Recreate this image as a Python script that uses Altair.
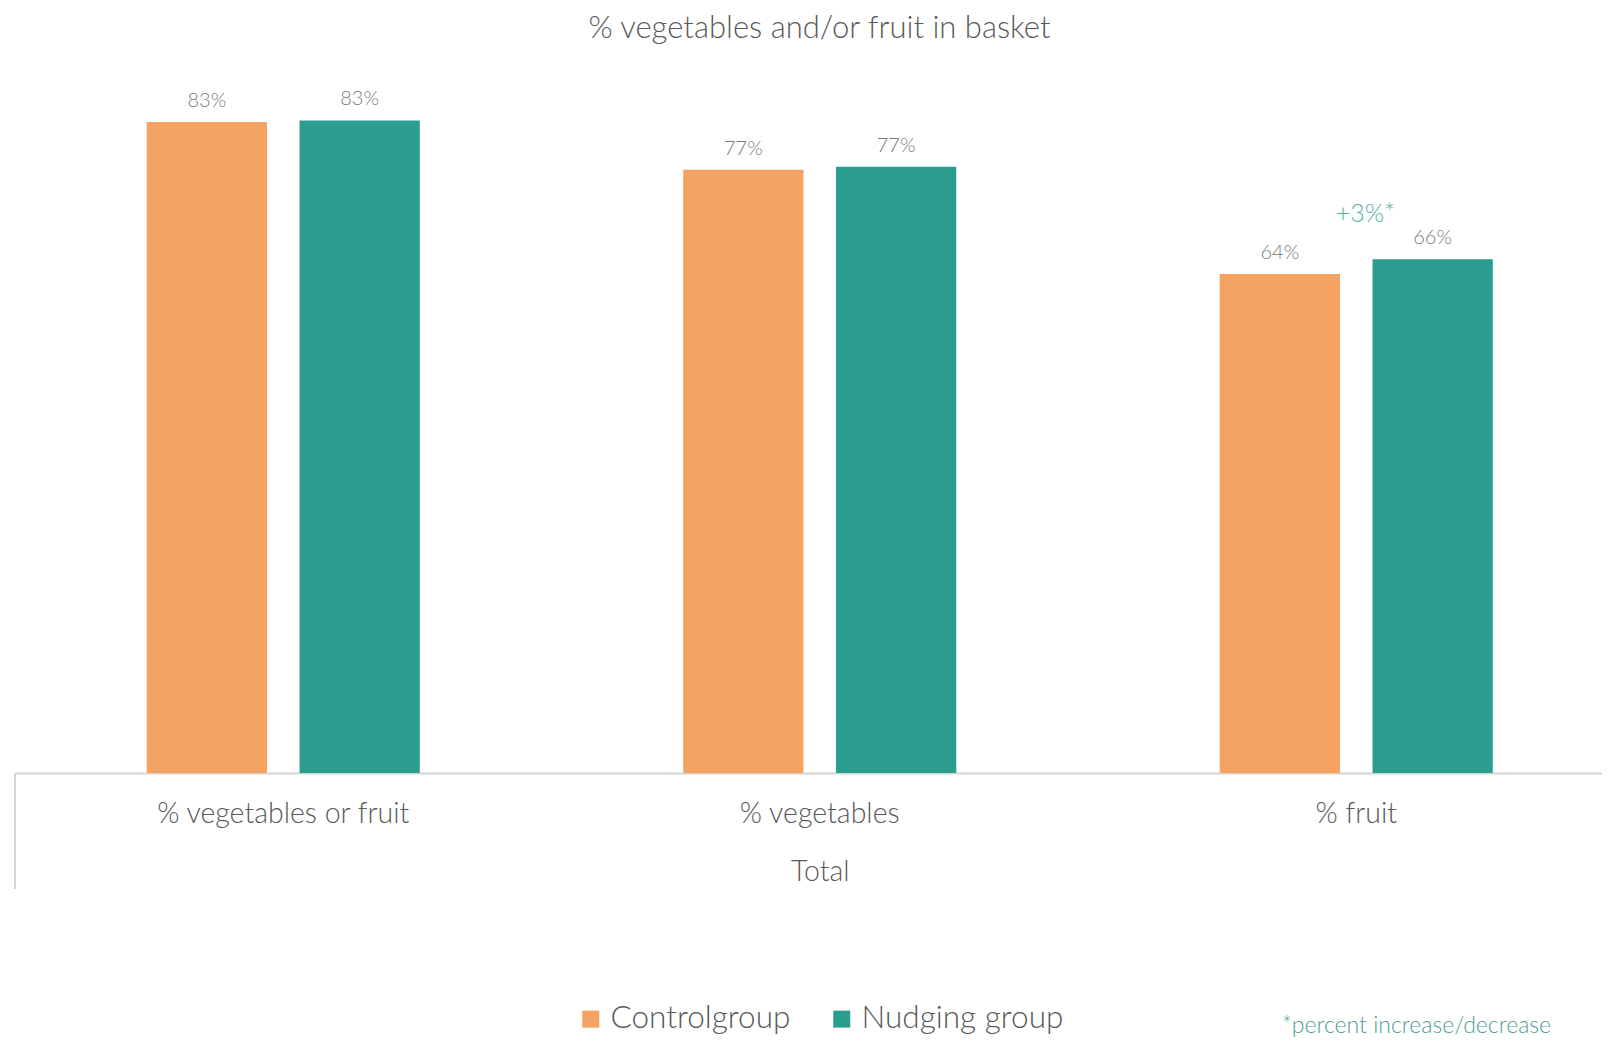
import altair as alt
import pandas as pd

categories = ["% vegetables or fruit", "% vegetables", "% fruit"]
groups = ["Controlgroup", "Nudging group"]
control_values = [83.1, 77.0, 63.7]
nudging_values = [83.3, 77.4, 65.6]
group_colors = ["#F4A261", "#2A9D8F"]
annotation_category = ["% fruit"]
annotation_value = [65.6]
annotation_text = ["+3%*"]
footnote_text = ["*percent increase/decrease"]

rows = []
for c, v in zip(categories, control_values):
    rows.append({"category": c, "group": groups[0], "value": v})
for c, v in zip(categories, nudging_values):
    rows.append({"category": c, "group": groups[1], "value": v})
df = pd.DataFrame(rows)
ann = pd.DataFrame({"category": annotation_category, "value": annotation_value, "text": annotation_text})
foot = pd.DataFrame({"text": footnote_text})

FONT = "Lato"
WEIGHT = 300
W, H = 1587, 705

x_enc = alt.X(
    "category:N",
    sort=categories,
    scale=alt.Scale(range=[0, 1609.5], paddingInner=0, paddingOuter=0),
    axis=alt.Axis(
        title="Total",
        labelFontSize=28.5,
        labelColor="#595959",
        labelFont=FONT,
        labelFontWeight=WEIGHT,
        labelPadding=26,
        labelAngle=0,
        labelLimit=0,
        ticks=False,
        domainColor="#d4d4d4",
        domainWidth=2,
        titleFontSize=28.5,
        titleFont=FONT,
        titleFontWeight=WEIGHT,
        titleColor="#595959",
        titlePadding=30,
        grid=False,
    ),
)
xoff_enc = alt.XOffset(
    "group:N", sort=groups, scale=alt.Scale(paddingInner=0.213, paddingOuter=0.862)
)
y_enc = alt.Y("value:Q", scale=alt.Scale(domain=[0, 90]), axis=None)

base = alt.Chart(df)

bars = base.mark_bar().encode(
    x=x_enc,
    xOffset=xoff_enc,
    y=y_enc,
    color=alt.Color(
        "group:N",
        sort=groups,
        scale=alt.Scale(domain=groups, range=group_colors),
        legend=alt.Legend(
            title=None,
            orient="none",
            legendX=560,
            legendY=935,
            direction="horizontal",
            symbolType="square",
            symbolSize=289,
            symbolStrokeWidth=0,
            labelFontSize=31.5,
            labelFont=FONT,
            labelFontWeight=WEIGHT,
            labelColor="#595959",
            labelOffset=4,
            labelLimit=0,
            columnPadding=35,
        ),
    ),
)

labels = base.transform_calculate(
    label="format(datum.value, '.0f') + '%'"
).mark_text(
    baseline="alphabetic", dy=-15, fontSize=20, font=FONT, fontWeight=WEIGHT, color="#7a7a7a"
).encode(x=alt.X("category:N", sort=categories), xOffset=alt.XOffset("group:N", sort=groups), y="value:Q", text="label:N")

annot = alt.Chart(ann).mark_text(
    baseline="alphabetic", dx=9, dy=-37, fontSize=25, font=FONT, fontWeight=WEIGHT, color="#4DB3A2"
).encode(x=alt.X("category:N", sort=categories), y="value:Q", text="text:N")

footnote = alt.Chart(foot).mark_text(
    align="left", baseline="middle", fontSize=23, font=FONT, fontWeight=WEIGHT, color="#4F9D96"
).encode(x=alt.value(1267), y=alt.value(958), text="text:N")

sep = alt.Chart(foot).mark_rule(color="#d4d4d4", strokeWidth=2).encode(
    x=alt.value(0), y=alt.value(H), y2=alt.value(821)
)

chart = alt.layer(bars, labels, annot, footnote, sep).properties(
    width=W,
    height=H,
    title=alt.TitleParams(
        "% vegetables and/or fruit in basket",
        fontSize=31,
        font=FONT,
        fontWeight=WEIGHT,
        color="#595959",
        anchor="middle",
        dx=11,
        offset=23,
    ),
    autosize=alt.AutoSizeParams(type="none"),
    padding={"left": 7, "top": 60, "right": 0, "bottom": 265},
).configure_view(stroke=None)

chart.save("out.html", embed_options={"renderer": "svg", "actions": False})
